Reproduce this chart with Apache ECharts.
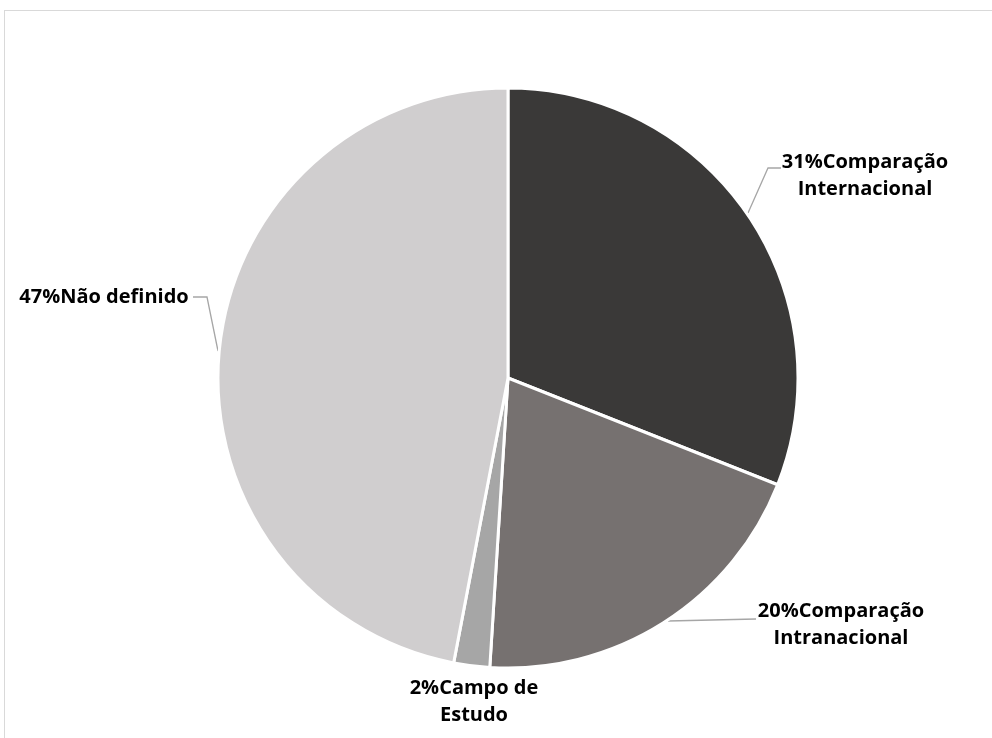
<!DOCTYPE html>
<html>
<head>
<meta charset="utf-8">
<script src="https://cdn.jsdelivr.net/npm/echarts@6/dist/echarts.min.js"></script>
<style>
  html, body { margin: 0; padding: 0; background: #fff; }
  #frame { position: absolute; left: 4px; top: 10px; width: 988px; height: 728px;
           border-left: 1px solid #d9d9d9; border-top: 1px solid #d9d9d9; }
  #chart { position: absolute; left: 0; top: 0; width: 992px; height: 738px; }
</style>
</head>
<body>
<div id="frame"></div>
<div id="chart"></div>
<script>
// Share of studies by comparison type (percent)
const categories = ['Comparação Internacional', 'Comparação Intranacional', 'Campo de Estudo', 'Não definido'];
const labelLines = [['31%Comparação', 'Internacional'], ['20%Comparação', 'Intranacional'], ['2%Campo de', 'Estudo'], ['47%Não definido']];
const values = [31, 20, 2, 47];
const colors = ['#3a3938', '#767170', '#a6a6a6', '#d0cecf'];

// Label anchor points and leader-line paths for each slice
const labelSpots = [
  { x: 865, y: 176, line: [[748, 213], [768, 168], [781, 168]] },
  { x: 841, y: 625, line: [[668, 621], [756, 619], [756, 619]] },
  { x: 474, y: 702, line: null },
  { x: 104, y: 297, line: [[218, 351], [207, 297], [193, 297]] }
];

const chart = echarts.init(document.getElementById('chart'));
chart.setOption({
  animation: false,
  series: [{
    type: 'pie',
    center: [508, 378],
    radius: [0, 290],
    startAngle: 90,
    clockwise: true,
    data: categories.map((name, i) => ({
      name,
      value: values[i],
      itemStyle: { color: colors[i] },
      label: { formatter: labelLines[i].join('\n') },
      labelLine: { show: labelSpots[i].line !== null }
    })),
    itemStyle: { borderColor: '#ffffff', borderWidth: 3 },
    label: {
      show: true,
      position: 'outside',
      color: '#000',
      fontFamily: 'Open Sans',
      fontWeight: 'bold',
      fontSize: 20,
      lineHeight: 27,
      align: 'center',
      overflow: 'none'
    },
    labelLine: {
      show: true,
      lineStyle: { color: '#a6a6a6', width: 1.3 }
    },
    labelLayout: function (params) {
      const s = labelSpots[params.dataIndex];
      const out = { x: s.x, y: s.y, align: 'center', verticalAlign: 'middle' };
      if (s.line) out.labelLinePoints = s.line;
      return out;
    }
  }]
});
</script>
</body>
</html>
